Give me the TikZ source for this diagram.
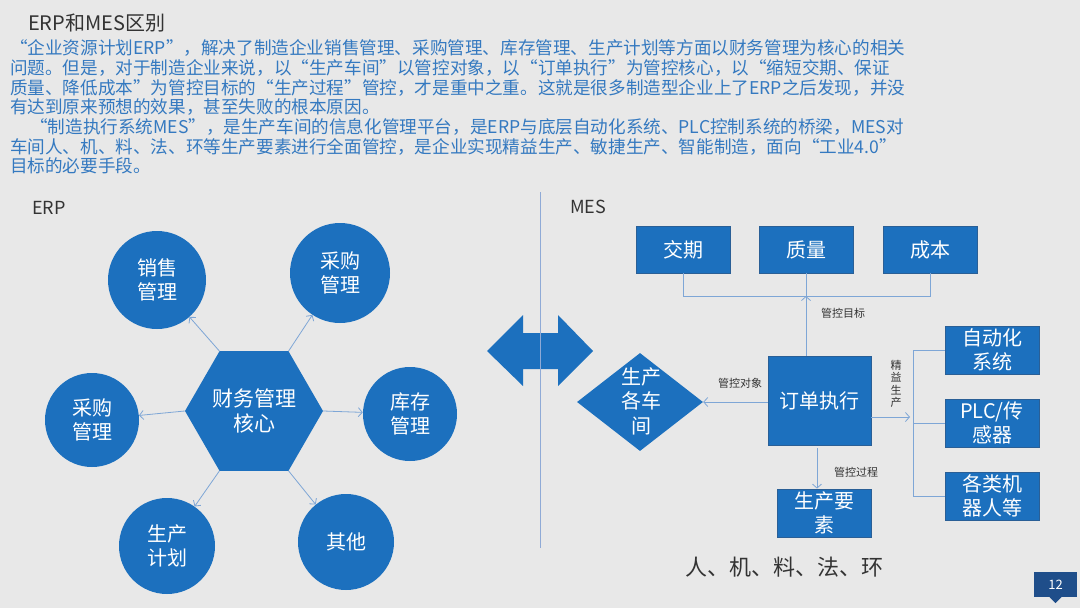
\documentclass[tikz,border=0pt]{standalone}
\usepackage{fontspec}
\setmainfont{Noto Sans CJK SC}
\usetikzlibrary{shapes.geometric,arrows.meta}
\definecolor{bg}{HTML}{E8E8E8}
\definecolor{mblue}{HTML}{1C70BE}
\definecolor{mborder}{HTML}{2A5F96}
\definecolor{ptext}{HTML}{3479C0}
\definecolor{lline}{HTML}{7EA6D6}
\definecolor{divline}{HTML}{8FAAD6}
\definecolor{dgray}{HTML}{333333}
\definecolor{pgblue}{HTML}{1F4E8A}
\begin{document}
\begin{tikzpicture}[x=1pt,y=-1pt,
 para/.style={anchor=west,inner sep=0pt,text=ptext,font=\fontsize{17.6}{20}\selectfont},
 circ/.style={circle,fill=mblue,inner sep=0pt,text=white,font=\fontsize{20}{24}\selectfont,align=center},
 box/.style={rectangle,fill=mblue,draw=mborder,line width=0.8pt,text=white,font=\fontsize{20}{24}\selectfont,align=center,inner sep=0pt},
 conn/.style={draw=lline,line width=0.8pt},
 arr/.style={conn,-{Straight Barb[length=4pt,width=9pt]}},
 small/.style={text=dgray,font=\fontsize{11}{12}\selectfont,inner sep=0pt,align=center},
 head/.style={text=dgray,inner sep=0pt,anchor=west},
]
\fill[bg] (0,0) rectangle (1080,608);
\useasboundingbox (0,0) rectangle (1080,608);

% title and paragraph
\node[head,font=\fontsize{20}{22}\selectfont] (title) at (28,23) {ERP和MES区别};
\node[para] (p1) at (10,48) {“企业资源计划ERP”，解决了制造企业销售管理、采购管理、库存管理、生产计划等方面以财务管理为核心的相关};
\node[para] (p2) at (10,68) {问题。但是，对于制造企业来说，以“生产车间”以管控对象，以“订单执行”为管控核心，以“缩短交期、保证};
\node[para] (p3) at (10,88) {质量、降低成本”为管控目标的“生产过程”管控，才是重中之重。这就是很多制造型企业上了ERP之后发现，并没};
\node[para] (p4) at (10,107) {有达到原来预想的效果，甚至失败的根本原因。};
\node[para] (p5) at (30,127) {“制造执行系统MES”，是生产车间的信息化管理平台，是ERP与底层自动化系统、PLC控制系统的桥梁，MES对};
\node[para] (p6) at (10,147) {车间人、机、料、法、环等生产要素进行全面管控，是企业实现精益生产、敏捷生产、智能制造，面向“工业4.0”};
\node[para] (p7) at (10,166) {目标的必要手段。};

% section labels
\node[head,font=\fontsize{18}{20}\selectfont] (erp) at (32,208) {ERP};
\node[head,font=\fontsize{18}{20}\selectfont] (mes) at (570,207) {MES};

% ERP hexagon and circles
\node[regular polygon,regular polygon sides=6,minimum size=138pt,fill=mblue,inner sep=0pt,
      text=white,font=\fontsize{21}{25}\selectfont,align=center] (core) at (254,411) {财务管理\\核心};
\node[circ,minimum size=98pt] (sales) at (157,280) {销售\\管理};
\node[circ,minimum size=100pt] (buy1) at (340,273) {采购\\管理};
\node[circ,minimum size=94pt] (buy2) at (92,420) {采购\\管理};
\node[circ,minimum size=94pt] (stock) at (410,414) {库存\\管理};
\node[circ,minimum size=96pt] (plan) at (167,546) {生产\\计划};
\node[circ,minimum size=96pt] (other) at (346,542) {其他};
\draw[arr] (core.120) -- (sales);
\draw[arr] (core.60) -- (buy1);
\draw[arr] (core.180) -- (buy2);
\draw[arr] (core.0) -- (stock);
\draw[arr] (core.240) -- (plan);
\draw[arr] (core.300) -- (other);

% double arrow and divider
\fill[mblue] (487,351) -- (523,315) -- (523,333) -- (558,333) -- (558,315) -- (593,351)
   -- (558,386) -- (558,369) -- (523,369) -- (523,386) -- cycle;
\coordinate (dtop) at (540,192);
\coordinate (dbot) at (540,548);
\draw[draw=divline,line width=0.8pt] (dtop) -- (dbot);

% MES
\node[box,minimum width=94pt,minimum height=47pt] (jq) at (683,249.5) {交期};
\node[box,minimum width=94pt,minimum height=47pt] (zl) at (806,249.5) {质量};
\node[box,minimum width=94pt,minimum height=47pt] (cb) at (930,249.5) {成本};
\node[box,minimum width=103pt,minimum height=89pt] (dd) at (819.5,400.5) {订单执行};
\node[diamond,fill=mblue,minimum width=126pt,minimum height=98pt,inner sep=0pt] (ws) at (640,402) {};
\node[text=white,font=\fontsize{20}{24.5}\selectfont,align=center,inner sep=0pt] (wst) at (641,401) {生产\\各车\\间};
\node[box,minimum width=94pt,minimum height=48pt] (auto) at (992,350) {自动化\\系统};
\node[box,minimum width=94pt,minimum height=48pt] (plc) at (992,423) {PLC/传\\感器};
\node[box,minimum width=94pt,minimum height=48pt] (robot) at (992,496) {各类机\\器人等};
\node[box,minimum width=94pt,minimum height=48pt] (ys) at (824,513) {生产要\\素};

\coordinate (bar) at (806,296);
\draw[conn] (jq.south) -- (jq.south |- bar) -| (cb.south);
\draw[conn] (zl.south) -- (bar);
\draw[arr] (dd.north -| bar) -- (bar);
\node[small] (l1) at (843,313) {管控目标};

\draw[arr] (dd.west |- ws) -- (ws.east);
\node[small] (l2) at (740,383) {管控对象};

\coordinate (rtop) at (913,350);
\coordinate (rtip) at (910,417);
\draw[arr] (dd.east |- rtip) -- (rtip);
\draw[conn] (auto.west) -- (auto.west -| rtop) -- (robot.west -| rtop) -- (robot.west);
\draw[conn] (plc.west) -- (plc.west -| rtop);
\node[small,font=\fontsize{11}{12.5}\selectfont] (l3) at (896,384) {精\\益\\生\\产};

\coordinate (dx) at (817,0);
\draw[arr] ([yshift=-3pt]dd.south -| dx) -- (ys.north -| dx);
\node[small] (l4) at (856,472) {管控过程};

\node[text=dgray,font=\fontsize{22}{24}\selectfont,inner sep=0pt] (rjl) at (784,567) {人、机、料、法、环};

% page number
\node[fill=pgblue,text=white,minimum width=43pt,minimum height=25pt,inner sep=0pt,font=\fontsize{13}{14}\selectfont] (pg) at (1055.5,584.5) {12};
\fill[pgblue] ([xshift=-6pt]pg.south) -- ([xshift=6pt]pg.south) -- ([yshift=-6pt]pg.south) -- cycle;
\end{tikzpicture}
\end{document}
